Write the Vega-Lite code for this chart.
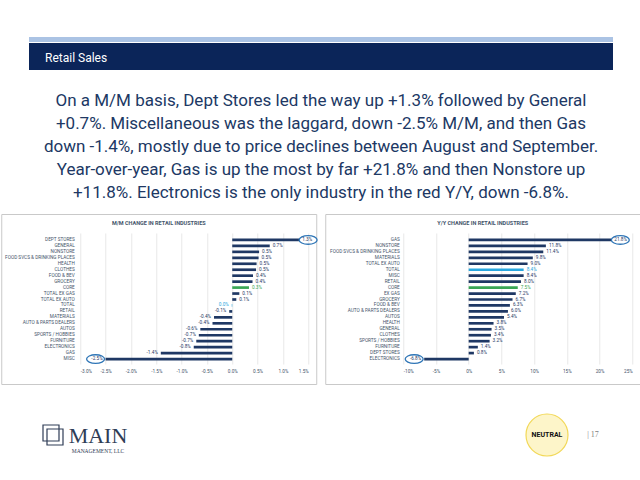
{
  "$schema": "https://vega.github.io/schema/vega-lite/v6.json",
  "background": "white",
  "padding": {"left": 0, "top": 37, "right": 0, "bottom": 0},
  "config": {
    "view": {"stroke": null},
    "font": "Roboto",
    "locale": {"number": {"decimal": ".", "thousands": ",", "grouping": [3], "currency": ["$", ""], "minus": "-"}}
  },
  "datasets": {
    "mm": [
      {"cat": "DEPT STORES", "v": 0.0132},
      {"cat": "GENERAL", "v": 0.0074},
      {"cat": "NONSTORE", "v": 0.0053},
      {"cat": "FOOD SVCS & DRINKING PLACES", "v": 0.0052},
      {"cat": "HEALTH", "v": 0.0048},
      {"cat": "CLOTHES", "v": 0.0047},
      {"cat": "FOOD & BEV", "v": 0.0041},
      {"cat": "GROCERY", "v": 0.0040},
      {"cat": "CORE", "v": 0.0033},
      {"cat": "TOTAL EX GAS", "v": 0.0014},
      {"cat": "TOTAL EX AUTO", "v": 0.0008},
      {"cat": "TOTAL", "v": -0.0001},
      {"cat": "RETAIL", "v": -0.0006},
      {"cat": "MATERIALS", "v": -0.0036},
      {"cat": "AUTO & PARTS DEALERS", "v": -0.0039},
      {"cat": "AUTOS", "v": -0.0063},
      {"cat": "SPORTS / HOBBIES", "v": -0.0066},
      {"cat": "FURNITURE", "v": -0.0071},
      {"cat": "ELECTRONICS", "v": -0.0076},
      {"cat": "GAS", "v": -0.0141},
      {"cat": "MISC", "v": -0.0250}
    ],
    "yy": [
      {"cat": "GAS", "v": 0.218},
      {"cat": "NONSTORE", "v": 0.118},
      {"cat": "FOOD SVCS & DRINKING PLACES", "v": 0.114},
      {"cat": "MATERIALS", "v": 0.098},
      {"cat": "TOTAL EX AUTO", "v": 0.090},
      {"cat": "TOTAL", "v": 0.084},
      {"cat": "MISC", "v": 0.084},
      {"cat": "RETAIL", "v": 0.080},
      {"cat": "CORE", "v": 0.075},
      {"cat": "EX GAS", "v": 0.072},
      {"cat": "GROCERY", "v": 0.067},
      {"cat": "FOOD & BEV", "v": 0.063},
      {"cat": "AUTO & PARTS DEALERS", "v": 0.060},
      {"cat": "AUTOS", "v": 0.054},
      {"cat": "HEALTH", "v": 0.038},
      {"cat": "GENERAL", "v": 0.035},
      {"cat": "CLOTHES", "v": 0.034},
      {"cat": "SPORTS / HOBBIES", "v": 0.032},
      {"cat": "FURNITURE", "v": 0.014},
      {"cat": "DEPT STORES", "v": 0.008},
      {"cat": "ELECTRONICS", "v": -0.068}
    ]
  },
  "center": true,
  "spacing": 0,
  "vconcat": [
    {"width": 584, "height": 5, "view": {"fill": "#abc3e4", "stroke": null}, "data": {"values": []}, "mark": "point"},
    {"width": 1, "height": 1, "data": {"values": []}, "mark": "point"},
    {
      "width": 584, "height": 27,
      "view": {"fill": "#0b2559", "stroke": null},
      "data": {"values": [{}]},
      "mark": {"type": "text", "text": "Retail Sales", "align": "left", "baseline": "middle", "dx": -276, "dy": 1, "fontSize": 12, "font": "Roboto", "fill": "white"},
      "encoding": {}
    },
    {"width": 1, "height": 18, "data": {"values": []}, "mark": "point"},
    {
      "width": 600, "height": 118,
      "data": {"values": [{}]},
      "mark": {
        "type": "text",
        "text": [
          "On a M/M basis, Dept Stores led the way up +1.3% followed by General",
          "+0.7%. Miscellaneous was the laggard, down -2.5% M/M, and then Gas",
          "down -1.4%, mostly due to price declines between August and September.",
          "Year-over-year, Gas is up the most by far +21.8% and then Nonstore up",
          "+11.8%. Electronics is the only industry in the red Y/Y, down -6.8%."
        ],
        "align": "center", "baseline": "middle", "dy": -46, "fontSize": 17, "lineHeight": 23,
        "fill": "#203864", "font": "Roboto"
      },
      "encoding": {}
    },
    {"width": 1, "height": 7, "data": {"values": []}, "mark": "point"},
    {
      "spacing": 4,
      "hconcat": [
        {
          "width": 315, "height": 170,
          "view": {"stroke": "#c9c9c9", "strokeWidth": 1},
          "title": {"text": "M/M CHANGE IN RETAIL INDUSTRIES", "offset": -16, "baseline": "alphabetic", "fontSize": 5.5, "fontWeight": "bold", "color": "#44546a", "anchor": "middle", "font": "Roboto"},
          "data": {"name": "mm"},
          "encoding": {
            "y": {"field": "cat", "type": "nominal", "sort": null, "title": null,
              "scale": {"range": [20, 151], "paddingInner": 0, "paddingOuter": 0.5},
              "axis": {"orient": "left", "offset": -73, "domain": false, "ticks": false, "tickSize": 0, "labelPadding": 0, "labelFontSize": 4.7, "labelColor": "#44546a", "labelFont": "Roboto", "grid": false, "labelLimit": 0}},
            "x": {"field": "v", "type": "quantitative", "title": null,
              "scale": {"domain": [-0.03, 0.015], "range": [79, 307], "nice": false, "zero": false},
              "axis": {"values": [-0.03, -0.025, -0.02, -0.015, -0.01, -0.005, 0, 0.005, 0.01, 0.015], "format": ".1%", "offset": -16, "domain": false, "ticks": false, "tickSize": 0, "labelPadding": 0, "labelFontSize": 4.7, "labelColor": "#44546a", "labelFont": "Roboto", "grid": true, "gridColor": "#e3e3e3", "gridWidth": 0.8}}
          },
          "layer": [
            {"mark": {"type": "bar", "height": {"band": 0.45}},
             "encoding": {"color": {"condition": [{"test": "datum.cat === 'CORE'", "value": "#3aa655"}, {"test": "datum.cat === 'TOTAL'", "value": "#29a8e0"}], "value": "#1f3864"}}},
            {"transform": [{"filter": "datum.v >= 0"}],
             "mark": {"type": "text", "align": "left", "baseline": "middle", "dx": 3, "fontSize": 4.7, "font": "Roboto"},
             "encoding": {"text": {"field": "v", "type": "quantitative", "format": ".1%"},
               "color": {"condition": [{"test": "datum.cat === 'CORE'", "value": "#3aa655"}, {"test": "datum.cat === 'TOTAL'", "value": "#29a8e0"}], "value": "#1f3864"}}},
            {"transform": [{"filter": "datum.v < 0"}],
             "mark": {"type": "text", "align": "right", "baseline": "middle", "dx": -3, "fontSize": 4.7, "font": "Roboto"},
             "encoding": {"text": {"field": "v", "type": "quantitative", "format": ".1%"},
               "color": {"condition": [{"test": "datum.cat === 'CORE'", "value": "#3aa655"}, {"test": "datum.cat === 'TOTAL'", "value": "#29a8e0"}], "value": "#1f3864"}}},
            {"transform": [{"filter": "datum.cat === 'DEPT STORES'"}],
             "mark": {"type": "point", "shape": "M-1,0A1,0.48,0,1,1,1,0A1,0.48,0,1,1,-1,0Z", "size": 324, "filled": false, "stroke": "#2e75b6", "strokeWidth": 1.3, "opacity": 1, "xOffset": 9}},
            {"transform": [{"filter": "datum.cat === 'MISC'"}],
             "mark": {"type": "point", "shape": "M-1,0A1,0.48,0,1,1,1,0A1,0.48,0,1,1,-1,0Z", "size": 324, "filled": false, "stroke": "#2e75b6", "strokeWidth": 1.3, "opacity": 1, "xOffset": -10}}
          ]
        },
        {
          "width": 315, "height": 170,
          "view": {"stroke": "#c9c9c9", "strokeWidth": 1},
          "title": {"text": "Y/Y CHANGE IN RETAIL INDUSTRIES", "offset": -16, "baseline": "alphabetic", "fontSize": 5.5, "fontWeight": "bold", "color": "#44546a", "anchor": "middle", "font": "Roboto"},
          "data": {"name": "yy"},
          "encoding": {
            "y": {"field": "cat", "type": "nominal", "sort": null, "title": null,
              "scale": {"range": [20, 151], "paddingInner": 0, "paddingOuter": 0.5},
              "axis": {"orient": "left", "offset": -74, "domain": false, "ticks": false, "tickSize": 0, "labelPadding": 0, "labelFontSize": 4.7, "labelColor": "#44546a", "labelFont": "Roboto", "grid": false, "labelLimit": 0}},
            "x": {"field": "v", "type": "quantitative", "title": null,
              "scale": {"domain": [-0.10, 0.25], "range": [78, 307], "nice": false, "zero": false},
              "axis": {"values": [-0.10, -0.05, 0, 0.05, 0.10, 0.15, 0.20, 0.25], "format": ".0%", "offset": -16, "domain": false, "ticks": false, "tickSize": 0, "labelPadding": 0, "labelFontSize": 4.7, "labelColor": "#44546a", "labelFont": "Roboto", "grid": true, "gridColor": "#e3e3e3", "gridWidth": 0.8}}
          },
          "layer": [
            {"mark": {"type": "bar", "height": {"band": 0.45}},
             "encoding": {"color": {"condition": [{"test": "datum.cat === 'CORE'", "value": "#3aa655"}, {"test": "datum.cat === 'TOTAL'", "value": "#29a8e0"}], "value": "#1f3864"}}},
            {"transform": [{"filter": "datum.v >= 0"}],
             "mark": {"type": "text", "align": "left", "baseline": "middle", "dx": 3, "fontSize": 4.7, "font": "Roboto"},
             "encoding": {"text": {"field": "v", "type": "quantitative", "format": ".1%"},
               "color": {"condition": [{"test": "datum.cat === 'CORE'", "value": "#3aa655"}, {"test": "datum.cat === 'TOTAL'", "value": "#29a8e0"}], "value": "#1f3864"}}},
            {"transform": [{"filter": "datum.v < 0"}],
             "mark": {"type": "text", "align": "right", "baseline": "middle", "dx": -3, "fontSize": 4.7, "font": "Roboto"},
             "encoding": {"text": {"field": "v", "type": "quantitative", "format": ".1%"},
               "color": {"value": "#1f3864"}}},
            {"transform": [{"filter": "datum.cat === 'GAS'"}],
             "mark": {"type": "point", "shape": "M-1,0A1,0.48,0,1,1,1,0A1,0.48,0,1,1,-1,0Z", "size": 324, "filled": false, "stroke": "#2e75b6", "strokeWidth": 1.3, "opacity": 1, "xOffset": 9}},
            {"transform": [{"filter": "datum.cat === 'ELECTRONICS'"}],
             "mark": {"type": "point", "shape": "M-1,0A1,0.48,0,1,1,1,0A1,0.48,0,1,1,-1,0Z", "size": 324, "filled": false, "stroke": "#2e75b6", "strokeWidth": 1.3, "opacity": 1, "xOffset": -10}}
          ]
        }
      ]
    },
    {"width": 1, "height": 26, "data": {"values": []}, "mark": "point"},
    {
      "spacing": 0,
      "hconcat": [
        {"width": 40, "height": 44, "data": {"values": []}, "mark": "point"},
        {"width": 26, "height": 44, "data": {"values": [{}]},
         "layer": [
           {"mark": {"type": "point", "shape": "square", "size": 256, "filled": false, "stroke": "#2f3d56", "strokeWidth": 1.2, "opacity": 1, "xOffset": -2, "yOffset": -2}, "encoding": {}},
           {"mark": {"type": "point", "shape": "square", "size": 256, "filled": false, "stroke": "#2f3d56", "strokeWidth": 1.2, "opacity": 1, "xOffset": 2, "yOffset": 2}, "encoding": {}}
         ]},
        {"width": 64, "height": 44, "data": {"values": [{}]},
         "layer": [
           {"mark": {"type": "text", "text": "MAIN", "font": "Liberation Serif", "fontSize": 22, "fill": "#2f3d56", "baseline": "alphabetic", "align": "center", "dy": 8}, "encoding": {}},
           {"mark": {"type": "text", "text": "MANAGEMENT, LLC", "font": "Liberation Serif", "fontSize": 5.5, "fill": "#2f3d56", "baseline": "middle", "align": "center", "dy": 16}, "encoding": {}}
         ]},
        {"width": 393, "height": 44, "data": {"values": []}, "mark": "point"},
        {"width": 46, "height": 44, "data": {"values": [{}]},
         "layer": [
           {"mark": {"type": "point", "shape": "circle", "size": 1764, "filled": true, "fill": "#fdf5c9", "stroke": "#f2d857", "strokeWidth": 1.2, "opacity": 1}, "encoding": {}},
           {"mark": {"type": "text", "text": "NEUTRAL", "font": "Roboto", "fontSize": 7, "fontWeight": "bold", "fill": "#111111", "baseline": "middle", "align": "center"}, "encoding": {}}
         ]},
        {"width": 13, "height": 44, "data": {"values": []}, "mark": "point"},
        {"width": 18, "height": 44, "data": {"values": [{}]},
         "mark": {"type": "text", "text": "| 17", "font": "Liberation Serif", "fontSize": 8, "fill": "#7f7f7f", "baseline": "middle", "align": "center"}, "encoding": {}},
        {"width": 40, "height": 44, "data": {"values": []}, "mark": "point"}
      ]
    }
  ]
}
